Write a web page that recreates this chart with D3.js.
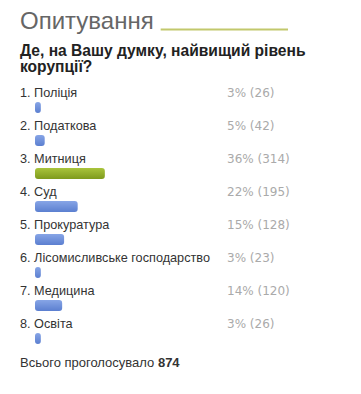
<!DOCTYPE html>
<html>
<head>
<meta charset="utf-8">
<title>Опитування</title>
<script src="https://d3js.org/d3.v7.min.js"></script>
<style>
body { margin: 0; background: #fff; }
svg { font-family: "Liberation Sans", Arial, sans-serif; }
.title { font-size: 24px; fill: #666; }
.question { font-size: 15.6px; font-weight: bold; fill: #222; }
.label { font-size: 12.7px; fill: #333; }
.pct { font-family: "DejaVu Sans", Verdana, sans-serif; font-size: 12px; fill: #aaa; }
.total { font-size: 13px; fill: #333; }
</style>
</head>
<body>
<div id="chart"></div>
<script>

var titleText = "Опитування";
var questionLines = ["Де, на Вашу думку, найвищий рівень", "корупції?"];
var options = ["Поліція", "Податкова", "Митниця", "Суд", "Прокуратура",
  "Лісомисливське господарство", "Медицина", "Освіта"];
var percents = [3, 5, 36, 22, 15, 3, 14, 3];
var votes = [26, 42, 314, 195, 128, 23, 120, 26];
var totalLabel = "Всього проголосувало ";
var totalVotes = 874;

var width = 361;
var height = 394;
var left = 20;
var barLeft = 35;
var rowTop = 97;
var rowStep = 33;

var svg = d3.select("#chart").append("svg")
  .attr("width", width)
  .attr("height", height);

var defs = svg.append("defs");
var blue = defs.append("linearGradient").attr("id", "gBlue")
  .attr("x1", 0).attr("y1", 0).attr("x2", 0).attr("y2", 1);
blue.append("stop").attr("offset", "0%").attr("stop-color", "#87a5e6");
blue.append("stop").attr("offset", "100%").attr("stop-color", "#5b7fd0");
var green = defs.append("linearGradient").attr("id", "gGreen")
  .attr("x1", 0).attr("y1", 0).attr("x2", 0).attr("y2", 1);
green.append("stop").attr("offset", "0%").attr("stop-color", "#a9c43c");
green.append("stop").attr("offset", "100%").attr("stop-color", "#7e9a1c");

/* header */
var title = svg.append("text")
  .attr("class", "title")
  .attr("x", left)
  .attr("y", 29)
  .text(titleText);

var tw = title.node().getComputedTextLength();
svg.append("line")
  .attr("x1", left + tw + 7)
  .attr("x2", 288)
  .attr("y1", 29.5)
  .attr("y2", 29.5)
  .attr("stroke", "#c2c86c")
  .attr("stroke-width", 2);

svg.selectAll(".question")
  .data(questionLines).enter()
  .append("text")
  .attr("class", "question")
  .attr("x", left)
  .attr("y", (d, i) => 56 + i * 16)
  .text(d => d);

/* rows */
var y = d3.scaleLinear()
  .domain([0, options.length - 1])
  .range([rowTop, rowTop + rowStep * (options.length - 1)]);

var x = d3.scaleLinear()
  .domain([0, 100])
  .range([0, 194]);

var maxPct = d3.max(percents);

var rows = svg.selectAll(".row")
  .data(options).enter()
  .append("g")
  .attr("class", "row")
  .attr("transform", (d, i) => `translate(0, ${y(i)})`);

rows.append("text")
  .attr("class", "label")
  .attr("x", left)
  .attr("y", 0)
  .text((d, i) => (i + 1) + ". " + d);

rows.append("text")
  .attr("class", "pct")
  .attr("x", 227)
  .attr("y", 0)
  .text((d, i) => percents[i] + "% (" + votes[i] + ")");

rows.append("rect")
  .attr("x", barLeft)
  .attr("y", 5)
  .attr("height", 11)
  .attr("width", (d, i) => Math.max(5, x(percents[i])))
  .attr("rx", 3)
  .attr("ry", 3)
  .attr("fill", (d, i) => percents[i] === maxPct ? "url(#gGreen)" : "url(#gBlue)");

/* total */
var total = svg.append("text")
  .attr("class", "total")
  .attr("x", left)
  .attr("y", 367);
total.append("tspan").text(totalLabel);
total.append("tspan").attr("font-weight", "bold").text(totalVotes);

</script>
</body>
</html>
